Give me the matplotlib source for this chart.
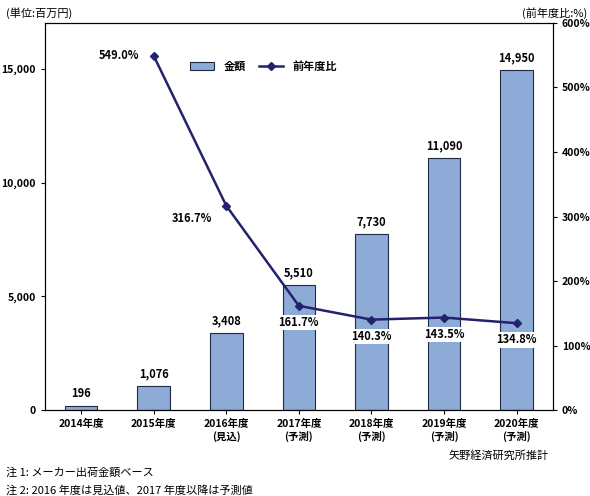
import numpy as np
import matplotlib.pyplot as plt

plt.rcParams['font.family'] = ['Noto Sans CJK JP', 'DejaVu Sans']

years = ["2014年度", "2015年度", "2016年度\n(見込)", "2017年度\n(予測)",
         "2018年度\n(予測)", "2019年度\n(予測)", "2020年度\n(予測)"]
amount = [196, 1076, 3408, 5510, 7730, 11090, 14950]
amount_labels = ["196", "1,076", "3,408", "5,510", "7,730", "11,090", "14,950"]
ratio = [None, 549.0, 316.7, 161.7, 140.3, 143.5, 134.8]

fig = plt.figure(figsize=(5.9, 4.96), dpi=100)
ax = fig.add_axes([0.076, 0.173, 0.861, 0.781])
x = np.arange(len(years))
ax.bar(x, amount, width=0.45, color="#8eaad6", edgecolor="#1f2a44", linewidth=0.8, label="金額")
ax.set_ylim(0, 17030)
ax.set_xlim(-0.5, len(years) - 0.5)
ax.set_yticks([0, 5000, 10000, 15000])
ax.set_yticklabels(["0", "5,000", "10,000", "15,000"])
ax.set_xticks(x)
ax.set_xticklabels(years)
ax.tick_params(labelsize=7.5, length=3)
for lab in ax.get_xticklabels() + ax.get_yticklabels():
    lab.set_fontweight("bold")
for xi, v, lab in zip(x, amount, amount_labels):
    ax.text(xi, v + 250, lab, ha="center", va="bottom", fontsize=8, fontweight="bold")

ax2 = ax.twinx()
xr = x[1:]
yr = ratio[1:]
ax2.plot(xr, yr, color="#22226e", marker="D", markersize=4.5, linewidth=1.8, label="前年度比")
ax2.set_ylim(0, 600)
ax2.set_yticks(range(0, 601, 100))
ax2.set_yticklabels([f"{v}%" for v in range(0, 601, 100)])
ax2.tick_params(labelsize=7.5, length=3)
for lab in ax2.get_yticklabels():
    lab.set_fontweight("bold")
ax2.text(xr[0] - 0.2, yr[0], f"{yr[0]:.1f}%", ha="right", va="center", fontsize=8, fontweight="bold")
ax2.text(xr[1] - 0.2, yr[1] - 20, f"{yr[1]:.1f}%", ha="right", va="center", fontsize=8, fontweight="bold")
for xi, v in zip(xr[2:], yr[2:]):
    ax2.text(xi, v - 16, f"{v:.1f}%", ha="center", va="top", fontsize=8, fontweight="bold",
             bbox=dict(facecolor="white", edgecolor="none", pad=1))

h1, l1 = ax.get_legend_handles_labels()
h2, l2 = ax2.get_legend_handles_labels()
ax2.legend(h1 + h2, l1 + l2, loc="upper center", bbox_to_anchor=(0.43, 0.93), ncol=2,
           frameon=False, fontsize=8, handlelength=2.2, columnspacing=1.2,
           prop={"weight": "bold", "size": 8})

fig.text(0.01, 0.985, "(単位:百万円)", fontsize=8, va="top")
fig.text(0.995, 0.985, "(前年度比:%)", fontsize=8, va="top", ha="right")
fig.text(0.93, 0.075, "矢野経済研究所推計", fontsize=8, ha="right")
fig.text(0.01, 0.04, "注 1: メーカー出荷金額ベース", fontsize=8)
fig.text(0.01, 0.005, "注 2: 2016 年度は見込値、2017 年度以降は予測値", fontsize=8)

fig.savefig("out.png", dpi=100)
